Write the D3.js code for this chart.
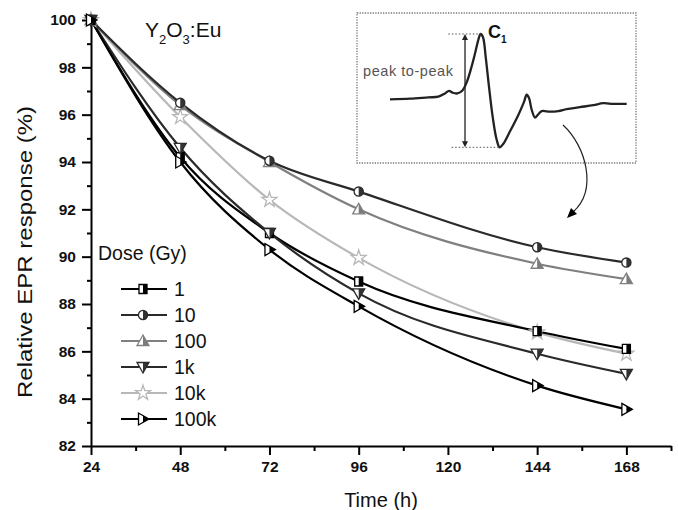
<!DOCTYPE html>
<html>
<head>
<meta charset="utf-8">
<script src="https://cdn.jsdelivr.net/npm/d3@7"></script>
<style>
  body { margin: 0; background: #fff; }
  svg { display: block; font-family: "Liberation Sans", Arial, sans-serif; }
</style>
</head>
<body>
<svg id="chart" width="678" height="510"></svg>
<script>
// ---------- data ----------
const times = [24, 48, 72, 96, 144, 168];
const doses = ["1", "10", "100", "1k", "10k", "100k"];
const s1    = [100, 94.2, 91.0, 88.95, 86.85, 86.1];
const s10   = [100, 96.5, 94.05, 92.75, 90.4, 89.75];
const s100  = [100, 96.4, 94.0, 92.0, 89.7, 89.05];
const s1k   = [100, 94.6, 91.0, 88.45, 85.9, 85.05];
const s10k  = [100, 95.9, 92.4, 89.95, 86.8, 85.9];
const s100k = [100, 94.0, 90.3, 87.9, 84.55, 83.55];
const xMajorTicks = [24, 48, 72, 96, 120, 144, 168];
const xMinorTicks = [36, 60, 84, 108, 132, 156, 180];
const yMajorTicks = [82, 84, 86, 88, 90, 92, 94, 96, 98, 100];
const yMinorTicks = [83, 85, 87, 89, 91, 93, 95, 97, 99];
// inset EPR spectrum (arbitrary field units, normalised signal)
const specField  = [120,180,235,265,285,297,308,322,338,350,362,375,386,392,399,407,417,428,440,449,460,480,505,522,530,537,545,555,563,575,600,625,650,690,730,760,790,830];
const specSignal = [0,0.01,0.03,0.04,0.09,0.13,0.10,0.09,0.14,0.26,0.45,0.70,0.93,1.0,0.95,0.65,0.19,-0.27,-0.62,-0.735,-0.68,-0.49,-0.24,-0.04,0.07,0.02,-0.16,-0.28,-0.24,-0.18,-0.19,-0.18,-0.15,-0.12,-0.09,-0.06,-0.07,-0.07];

const seriesValues = [s1, s10, s100, s1k, s10k, s100k];
const seriesColor  = ["#000", "#2a2a2a", "#808080", "#2a2a2a", "#b8b8b8", "#000"];
const seriesFill   = ["#000", "#333", "#7a7a7a", "#333", "#b8b8b8", "#000"];
const seriesShape  = ["square", "circle", "triUp", "triDown", "star", "triRight"];

// ---------- layout ----------
const svg = d3.select("#chart");
const x = d3.scaleLinear().domain([24, 180]).range([91, 671]);
const y = d3.scaleLinear().domain([82, 100]).range([446, 20]);

const defs = svg.append("defs");
defs.append("clipPath").attr("id", "rightHalf")
  .attr("clipPathUnits", "userSpaceOnUse")
  .append("rect").attr("x", 0).attr("y", -20).attr("width", 20).attr("height", 40);

// ---------- axes ----------
const axisG = svg.append("g");
const xMajor = axisG.append("g").attr("transform", `translate(0,${y(82)})`)
  .call(d3.axisBottom(x).tickValues(xMajorTicks).tickSize(9).tickSizeOuter(0).tickPadding(5));
const xMinor = axisG.append("g").attr("transform", `translate(0,${y(82)})`)
  .call(d3.axisBottom(x).tickValues(xMinorTicks).tickSize(5).tickFormat(""));
xMinor.select(".domain").remove();
const yMajor = axisG.append("g").attr("transform", `translate(${x(24)},0)`)
  .call(d3.axisLeft(y).tickValues(yMajorTicks).tickSize(9).tickSizeOuter(0).tickPadding(6));
const yMinor = axisG.append("g").attr("transform", `translate(${x(24)},0)`)
  .call(d3.axisLeft(y).tickValues(yMinorTicks).tickSize(4).tickFormat(""));
yMinor.select(".domain").remove();

axisG.selectAll(".domain").attr("stroke", "#000").attr("stroke-width", 2);
axisG.selectAll(".tick line").attr("stroke", "#000").attr("stroke-width", 2);
axisG.selectAll(".tick text").attr("font-family", "Liberation Sans, Arial, sans-serif")
  .attr("font-size", 15.5).attr("font-weight", "bold").attr("fill", "#111");
xMajor.selectAll(".tick text").attr("dy", "0.8em");

// axis titles
svg.append("text").attr("x", 381).attr("y", 507).attr("text-anchor", "middle")
  .attr("font-size", 20).attr("fill", "#111").text("Time (h)");
svg.append("text").attr("transform", "translate(32,252) rotate(-90)")
  .attr("text-anchor", "middle").attr("font-size", 21).attr("fill", "#111")
  .attr("textLength", 292).attr("lengthAdjust", "spacingAndGlyphs")
  .text("Relative EPR response (%)");

// ---------- marker helper ----------
function shapePath(shape) {
  switch (shape) {
    case "square": return "M-4,-4.5H4V4.5H-4Z";
    case "circle": return d3.arc()({innerRadius: 0, outerRadius: 4.6, startAngle: 0, endAngle: 2 * Math.PI});
    case "triUp": return "M0,-6L6,4.5L-6,4.5Z";
    case "triDown": return "M0,6L6,-4.5L-6,-4.5Z";
    case "triRight": return "M6,0L-4.5,-6L-4.5,6Z";
    case "star": return d3.symbol(d3.symbolStar, 70)();
  }
}
function drawMarker(g, shape, fill, stroke) {
  const p = shapePath(shape);
  if (shape === "star") {
    g.append("path").attr("d", p).attr("fill", "#fff").attr("stroke", stroke).attr("stroke-width", 1.3);
    return;
  }
  g.append("path").attr("d", p).attr("fill", "#fff");
  g.append("path").attr("d", p).attr("fill", fill).attr("clip-path", "url(#rightHalf)");
  g.append("path").attr("d", p).attr("fill", "none").attr("stroke", stroke).attr("stroke-width", 1.3)
    .attr("stroke-linejoin", "miter");
}

// ---------- series ----------
const line = d3.line().x((d, i) => x(times[i])).y(d => y(d)).curve(d3.curveMonotoneX);
const order = [4, 2, 1, 0, 3, 5];
order.forEach(k => {
  svg.append("path").attr("d", line(seriesValues[k])).attr("fill", "none")
    .attr("stroke", seriesColor[k]).attr("stroke-width", 2.2);
});
order.forEach(k => {
  seriesValues[k].forEach((v, i) => {
    const g = svg.append("g").attr("transform", `translate(${x(times[i])},${y(v)})`);
    drawMarker(g, seriesShape[k], seriesFill[k], seriesColor[k]);
  });
});

// ---------- title ----------
const title = svg.append("text").attr("x", 145).attr("y", 37).attr("font-size", 21).attr("fill", "#111");
title.append("tspan").text("Y");
title.append("tspan").attr("font-size", 13).attr("dy", 7).text("2");
title.append("tspan").attr("dy", -7).text("O");
title.append("tspan").attr("font-size", 13).attr("dy", 7).text("3");
title.append("tspan").attr("dy", -7).text(":Eu");

// ---------- legend ----------
svg.append("text").attr("x", 98).attr("y", 260).attr("font-size", 19.5).attr("fill", "#111").text("Dose (Gy)");
doses.forEach((d, k) => {
  const ly = 289 + k * 26;
  svg.append("line").attr("x1", 121).attr("x2", 167).attr("y1", ly).attr("y2", ly)
    .attr("stroke", seriesColor[k]).attr("stroke-width", 2.2);
  const g = svg.append("g").attr("transform", `translate(143,${ly})`);
  drawMarker(g, seriesShape[k], seriesFill[k], seriesColor[k]);
  svg.append("text").attr("x", 174).attr("y", ly + 7).attr("font-size", 19.5).attr("fill", "#111").text(d);
});

// ---------- inset ----------
const inset = svg.append("g");
inset.append("rect").attr("x", 357).attr("y", 13).attr("width", 279).attr("height", 150)
  .attr("fill", "none").attr("stroke", "#777").attr("stroke-width", 1.3).attr("stroke-dasharray", "1.3,1.3");
const ix = d3.scaleLinear().domain([120, 830]).range([390, 626.7]);
const iy = d3.scaleLinear().domain([-0.735, 1]).range([147.3, 34]);
const specLine = d3.line().x((d, i) => ix(specField[i])).y(d => iy(d)).curve(d3.curveCatmullRom);
inset.append("path").attr("d", specLine(specSignal)).attr("fill", "none")
  .attr("stroke", "#222").attr("stroke-width", 2.3).attr("stroke-linejoin", "round");
// dotted reference lines
inset.append("line").attr("x1", ix(295)).attr("x2", ix(392)).attr("y1", iy(1)).attr("y2", iy(1))
  .attr("stroke", "#555").attr("stroke-width", 1).attr("stroke-dasharray", "1.5,2");
inset.append("line").attr("x1", ix(305)).attr("x2", ix(449)).attr("y1", iy(-0.735)).attr("y2", iy(-0.735))
  .attr("stroke", "#555").attr("stroke-width", 1).attr("stroke-dasharray", "1.5,2");
// double arrow
const ax = ix(345);
inset.append("line").attr("x1", ax).attr("x2", ax).attr("y1", iy(1) + 3).attr("y2", iy(-0.735) - 3)
  .attr("stroke", "#222").attr("stroke-width", 1.3);
inset.append("path").attr("d", `M${ax},${iy(1)}l-3,6h6z`).attr("fill", "#222");
inset.append("path").attr("d", `M${ax},${iy(-0.735)}l-3,-6h6z`).attr("fill", "#222");
// labels
inset.append("text").attr("x", 363).attr("y", 76).attr("font-size", 14.5).attr("fill", "#555")
  .attr("textLength", 90).text("peak to-peak");
const c1 = inset.append("text").attr("x", 488).attr("y", 38).attr("font-size", 18).attr("font-weight", "bold").attr("fill", "#111");
c1.append("tspan").attr("fill", "#111").text("C");
c1.append("tspan").attr("fill", "#111").attr("font-size", 10).attr("dy", 5).text("1");
// curved arrow
svg.append("path").attr("d", "M563,125 C586,146 598,190 573,212")
  .attr("fill", "none").attr("stroke", "#222").attr("stroke-width", 1.2);
svg.append("path").attr("d", "M567,218 L571,208 L577,214 Z").attr("fill", "#000");
</script>
</body>
</html>
